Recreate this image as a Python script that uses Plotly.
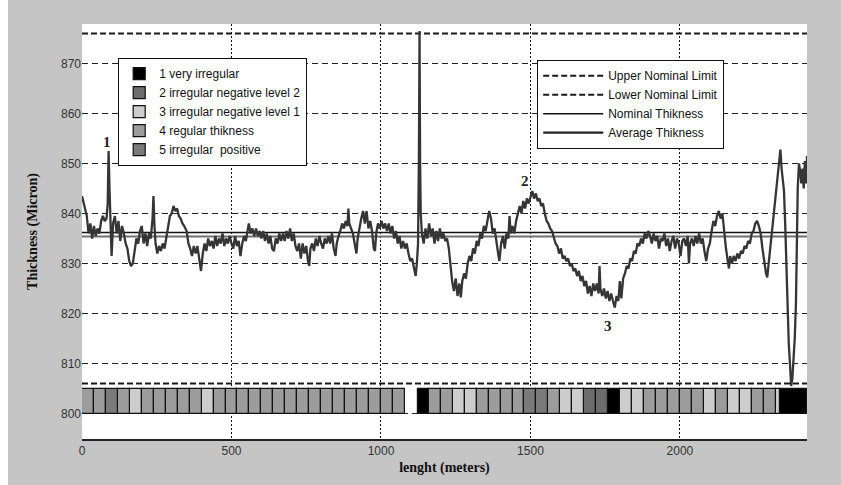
import plotly.graph_objects as go

# ---------------- data ----------------
DIST_M = [
    0, 5, 10, 16, 22, 28, 34, 40, 46, 52,
    58, 64, 70, 76, 82, 86, 89, 92, 95, 99,
    104, 110, 116, 122, 128, 134, 140, 146, 152, 158,
    164, 170, 176, 182, 188, 194, 200, 206, 212, 218,
    224, 230, 236, 239, 242, 246, 252, 258, 264, 270,
    276, 282, 288, 294, 300, 306, 312, 318, 324, 330,
    336, 342, 350, 356, 362, 368, 374, 380, 386, 392,
    398, 404, 410, 416, 422, 428, 434, 440, 446, 452,
    458, 464, 470, 476, 482, 488, 494, 500, 506, 512,
    518, 524, 530, 536, 542, 548, 554, 558, 564, 570,
    576, 582, 588, 594, 600, 606, 612, 618, 624, 630,
    636, 642, 648, 654, 660, 666, 672, 678, 684, 690,
    696, 702, 708, 714, 720, 726, 732, 738, 744, 750,
    756, 760, 764, 770, 776, 782, 788, 794, 800, 806,
    812, 818, 824, 830, 836, 842, 848, 852, 858, 864,
    870, 876, 882, 888, 891, 894, 900, 906, 912, 918,
    922, 928, 934, 940, 946, 952, 958, 964, 970, 976,
    980, 984, 990, 996, 1002, 1008, 1014, 1020, 1026, 1032,
    1038, 1044, 1050, 1056, 1062, 1068, 1074, 1080, 1086, 1092,
    1098, 1104, 1110, 1116, 1120, 1124, 1127, 1129, 1131, 1133,
    1137, 1143, 1149, 1155, 1161, 1167, 1173, 1179, 1185, 1191,
    1197, 1203, 1209, 1215, 1221, 1227, 1232, 1238, 1244, 1250,
    1256, 1262, 1267, 1272, 1278, 1284, 1290, 1296, 1302, 1308,
    1314, 1320, 1326, 1332, 1338, 1344, 1350, 1356, 1362, 1368,
    1374, 1380, 1386, 1392, 1396, 1402, 1408, 1414, 1420, 1426,
    1430, 1434, 1440, 1446, 1452, 1458, 1464, 1470, 1476, 1482,
    1488, 1494, 1500, 1506, 1512, 1518, 1524, 1530, 1536, 1542,
    1548, 1554, 1560, 1566, 1572, 1578, 1584, 1590, 1596, 1602,
    1608, 1614, 1620, 1626, 1632, 1638, 1644, 1650, 1656, 1662,
    1668, 1674, 1680, 1686, 1692, 1698, 1704, 1710, 1716, 1722,
    1728, 1731, 1734, 1740, 1746, 1752, 1758, 1764, 1770, 1776,
    1782, 1788, 1794, 1799, 1804, 1810, 1816, 1822, 1828, 1834,
    1840, 1846, 1852, 1858, 1864, 1870, 1876, 1882, 1888, 1894,
    1900, 1906, 1912, 1918, 1924, 1930, 1936, 1942, 1948, 1954,
    1960, 1966, 1972, 1978, 1984, 1990, 1996, 2002, 2008, 2014,
    2020, 2026, 2030, 2034, 2040, 2046, 2052, 2058, 2064, 2070,
    2076, 2082, 2088, 2094, 2100, 2106, 2112, 2118, 2124, 2130,
    2136, 2142, 2148, 2154, 2160, 2164, 2168, 2174, 2180, 2186,
    2192, 2198, 2204, 2210, 2216, 2222, 2228, 2234, 2240, 2246,
    2252, 2258, 2264, 2270, 2276, 2282, 2288, 2292, 2296, 2302,
    2308, 2314, 2320, 2326, 2332, 2336, 2340, 2344, 2348, 2352,
    2356, 2360, 2364, 2368, 2372, 2376, 2380, 2384, 2388, 2391,
    2394, 2398, 2402, 2406, 2410, 2414, 2418, 2422, 2425,
]

THICK_UM = [
    843.5, 842, 841, 839.5, 836, 838, 835, 837.5, 835.5, 837,
    836, 838.5, 839.5, 838.5, 839, 842, 852.5, 845, 838, 831.5,
    838, 839.5, 836, 838.5, 834.5, 837.5, 836, 834, 833, 830.5,
    829.5, 830, 832.5, 835, 834, 836.5, 837.5, 834, 836, 833.5,
    836, 835, 839, 843.5, 838, 834, 832, 833.5, 832.5, 834,
    833, 835.5, 837.5, 839.5, 840, 841.5, 840.5, 841, 839.5, 839,
    838, 837.5, 836.5, 834, 833, 831.5, 833.5, 832, 833.5, 831,
    828.5, 832, 834, 832.5, 835, 833.5, 834.5, 833, 835.5, 833.5,
    835, 834, 836, 833.5, 835, 834, 835.5, 834, 833, 835.5,
    833.5, 834.5, 831.5, 834, 835.5, 834.5, 836.5, 838, 836, 837,
    835.5, 837, 835.5, 836.5, 835, 836.5, 834.5, 836, 834, 835.5,
    833, 832.5, 835, 834, 836, 834.5, 836, 834.5, 836.5, 835,
    837, 834.5, 836, 833.5, 832.5, 834, 831, 834, 832, 833.5,
    830.5, 829.5, 833, 834, 832.5, 835, 833.5, 835.5, 834, 833,
    835, 834, 835.5, 834, 836, 833, 831.5, 834, 835.5, 836.5,
    838, 837, 838.5, 837.5, 841, 838, 837, 836, 834, 832,
    835, 837.5, 839, 840.5, 838, 840.5, 837, 838.5, 836.5, 833,
    832.5, 836, 838, 837, 838.5, 837, 838, 836.5, 838, 836,
    837.5, 835, 836.5, 834, 835.5, 833, 834.5, 833, 834, 832,
    830.5, 831, 829, 827.5, 830, 834, 852, 876.5, 850, 840,
    836, 834, 837, 835, 838, 835.5, 837, 834, 836.5, 834.5,
    837, 835, 836, 834.5, 835, 833, 830, 826.5, 824.5, 827,
    823.5, 826, 823.2, 826.5, 828, 827, 830, 831.5, 830.5, 833,
    832, 834.5, 833.5, 836, 835, 837.5, 836.5, 839, 840.5, 839,
    836, 837, 834, 832, 830.5, 834, 835.5, 833, 836, 835,
    839.5, 836, 837.5, 836, 838.5, 840, 841.5, 840, 842.5, 841,
    843, 842, 843.5, 844.5, 843, 844, 842.5, 843, 841.5, 842,
    840, 838.5, 838, 837, 836.5, 835, 834, 833.5, 832, 833,
    831, 831.5, 830.5, 831, 829.5, 830, 828.5, 829, 827.5, 828.5,
    826.5, 827.5, 825.5, 826.5, 824, 825.5, 823.5, 826, 824.5, 826,
    824, 829.5, 825, 823.5, 825, 823, 824.5, 822.5, 824, 822.5,
    821.2, 823.5, 822.5, 826.5, 823, 827, 828, 829.5, 829, 831,
    830.5, 832.5, 832, 834, 833.5, 835, 834, 836, 835, 836.5,
    835.5, 834, 836, 834.5, 835.5, 833, 835, 834.5, 836, 833.5,
    835, 832.5, 834.5, 835.5, 833, 835, 834, 831.5, 834.5, 835,
    833.5, 835.5, 830, 834, 835, 833.5, 835.5, 834, 836, 834,
    835, 832.5, 830.5, 833, 834, 836.5, 838.5, 837.5, 839.5, 840.5,
    839, 840, 836, 833, 830.5, 829, 831.5, 830, 831.5, 830.5,
    832, 831, 832.5, 832, 833.5, 833, 834.5, 834, 836, 836.5,
    838, 838.5, 837.5, 836, 833, 830, 828, 827.2, 829.5, 833,
    837, 841, 844, 846.5, 850, 852.8, 849, 847, 844.5, 838,
    829, 820, 814, 810, 805.5, 807, 811, 815, 822, 835,
    845, 850, 848.5, 846, 849, 845, 850.5, 846, 851.5,
]
assert len(DIST_M) == len(THICK_UM)

UPPER_LIMIT = 876.0
LOWER_LIMIT = 806.0
NOMINAL_THICKNESS = 836.2
AVERAGE_THICKNESS = 835.4

# quality strip: segment edges (m) and level of each segment
STRIP1_EDGES = [0, 40, 80, 120, 160, 200, 240, 280, 320, 360, 400, 440, 480, 520,
                560, 600, 640, 680, 720, 760, 800, 840, 880, 920, 960, 1000, 1040, 1080]
STRIP1_LEVELS = [4, 4, 5, 4, 3, 4, 4, 4, 4, 4, 3, 4, 4, 4,
                 4, 4, 4, 4, 4, 4, 4, 4, 4, 4, 4, 4, 4]
STRIP2_EDGES = [1124, 1160, 1200, 1240, 1280, 1320, 1360, 1400, 1440, 1480, 1520,
                1560, 1600, 1640, 1680, 1720, 1760, 1800, 1840, 1880, 1920, 1960,
                2000, 2040, 2080, 2120, 2160, 2200, 2240, 2280, 2320, 2334, 2425]
STRIP2_LEVELS = [1, 4, 4, 3, 3, 4, 4, 4, 4, 5, 5, 4, 3, 3, 2, 2, 1, 3, 3, 4,
                 4, 4, 4, 4, 3, 4, 3, 3, 4, 4, 3, 1]
STRIP_BASE = 800.0
STRIP_TOP = 805.0

LEVEL_IDS = [1, 2, 3, 4, 5]
LEVEL_NAMES = ["1 very irregular", "2 irregular negative level 2",
               "3 irregular negative level 1", "4 regular thikness",
               "5 irregular  positive"]
LEVEL_COLORS = ["#000000", "#6c6c6c", "#cdcdcd", "#9c9c9c", "#7a7a7a"]

X_RANGE = [0, 2425]
Y_RANGE = [794.9, 877.9]
X_TICKS = [0, 500, 1000, 1500, 2000]
Y_TICKS = [800, 810, 820, 830, 840, 850, 860, 870]

PEAK_LABELS = ["1", "2", "3"]
PEAK_X = [84, 1482, 1759]
PEAK_Y = [854.3, 846.6, 817.6]

# ---------------- figure ----------------
fig = go.Figure()

segs = []
for edges, levels in ((STRIP1_EDGES, STRIP1_LEVELS), (STRIP2_EDGES, STRIP2_LEVELS)):
    for i, lv in enumerate(levels):
        segs.append((edges[i], edges[i + 1], lv))

for lid, name, col in zip(LEVEL_IDS, LEVEL_NAMES, LEVEL_COLORS):
    sel = [s for s in segs if s[2] == lid]
    fig.add_trace(go.Bar(
        x=[(a + b) / 2 for a, b, _ in sel],
        y=[STRIP_TOP - STRIP_BASE] * len(sel),
        base=STRIP_BASE,
        width=[b - a for a, b, _ in sel],
        marker=dict(color=col, line=dict(color="#111111", width=1.2)),
        name=name, legend="legend", hoverinfo="skip",
    ))

fig.add_trace(go.Scatter(x=X_RANGE, y=[UPPER_LIMIT] * 2, mode="lines",
                         line=dict(color="#1a1a1a", width=2, dash="6px,3px"),
                         name="Upper Nominal Limit", legend="legend2"))
fig.add_trace(go.Scatter(x=X_RANGE, y=[LOWER_LIMIT] * 2, mode="lines",
                         line=dict(color="#1a1a1a", width=2, dash="6px,3px"),
                         name="Lower Nominal Limit", legend="legend2"))
fig.add_trace(go.Scatter(x=X_RANGE, y=[AVERAGE_THICKNESS] * 2, mode="lines",
                         line=dict(color="#707070", width=2.2),
                         name="Average Thikness", legend="legend2", showlegend=False))
fig.add_trace(go.Scatter(x=X_RANGE, y=[NOMINAL_THICKNESS] * 2, mode="lines",
                         line=dict(color="#111111", width=1.6),
                         name="Nominal Thikness", legend="legend2"))
# legend entry for average (drawn black in the legend like the reference)
fig.add_trace(go.Scatter(x=[None], y=[None], mode="lines",
                         line=dict(color="#222222", width=2.2),
                         name="Average Thikness", legend="legend2"))

fig.add_trace(go.Scatter(x=DIST_M, y=THICK_UM, mode="lines",
                         line=dict(color="#353535", width=2.3),
                         showlegend=False, hoverinfo="skip"))

for t, xv, yv in zip(PEAK_LABELS, PEAK_X, PEAK_Y):
    fig.add_annotation(x=xv, y=yv, text="<b>%s</b>" % t, showarrow=False,
                       font=dict(family="Liberation Serif", size=15, color="#222"))

tick_font = dict(family="Liberation Sans", size=12, color="#333333")
title_font = dict(family="Liberation Serif", size=14, color="#111111")

fig.update_layout(
    width=841, height=485,
    margin=dict(l=82, r=34, t=24, b=46),
    paper_bgcolor="#c5c5c5", plot_bgcolor="#ffffff",
    barmode="overlay", bargap=0,
    showlegend=True,
    legend=dict(x=(118 - 82) / 725, y=1 - (58 - 24) / 415, xanchor="left", yanchor="top",
                bgcolor="#ffffff", bordercolor="#111111", borderwidth=1.2,
                font=dict(family="Liberation Sans", size=12, color="#111"),
                traceorder="normal"),
    legend2=dict(x=(537 - 82) / 725, y=1 - (60 - 24) / 415, xanchor="left", yanchor="top",
                 bgcolor="#ffffff", bordercolor="#111111", borderwidth=1.2,
                 font=dict(family="Liberation Sans", size=12, color="#111"),
                 itemwidth=60, traceorder="normal"),
    xaxis=dict(range=X_RANGE, tickvals=X_TICKS, showgrid=True,
               gridcolor="#111111", gridwidth=1.3, griddash="2px,2px",
               zeroline=False, showline=True, linecolor="#222222", linewidth=1.5,
               ticks="", tickfont=tick_font,
               title=dict(text="<b>lenght (meters)</b>", font=title_font, standoff=5)),
    yaxis=dict(range=Y_RANGE, tickvals=Y_TICKS, showgrid=True,
               gridcolor="#222222", gridwidth=1.3, griddash="6px,4px",
               zeroline=False, showline=False, ticks="", tickfont=tick_font,
               title=dict(text="<b>Thickness (Micron)</b>", font=title_font, standoff=20)),
    shapes=[dict(type="rect", xref="paper", yref="paper",
                 x0=-82 / 725, x1=(8 - 82) / 725, y0=-0.2, y1=1.1,
                 fillcolor="#ffffff", line=dict(width=0), layer="below")],
)

fig.write_html("out.html")
